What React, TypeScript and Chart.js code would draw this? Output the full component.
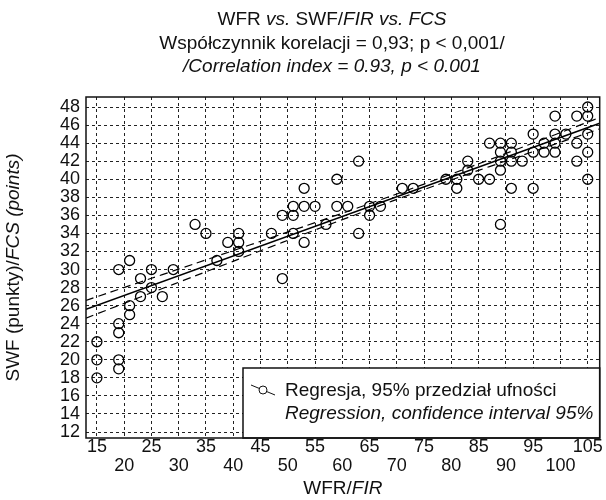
import React, { useEffect, useRef } from "react";
import { Chart, registerables } from "chart.js";

Chart.register(...registerables);

// ---- data ----
const pointX = [
  15, 15, 15,
  19, 19, 19, 19, 19,
  21, 21, 21,
  23, 23,
  25, 25,
  27, 29,
  33, 35, 37,
  39, 41, 41, 41,
  47, 49, 49,
  51, 51, 51,
  53, 53, 53,
  55, 57,
  59, 59, 61,
  63, 63,
  65, 65, 67,
  71, 73,
  79, 81, 81,
  83, 83,
  85, 87, 87,
  89, 89, 89, 89, 89,
  91, 91, 91, 91,
  93,
  95, 95, 95,
  97, 97,
  99, 99, 99, 99,
  101,
  103, 103, 103,
  105, 105, 105, 105, 105,
];
const pointY = [
  22, 20, 18,
  24, 23, 20, 19, 30,
  31, 26, 25,
  29, 27,
  30, 28,
  27, 30,
  35, 34, 31,
  33, 34, 33, 32,
  34, 36, 29,
  37, 36, 34,
  39, 37, 33,
  37, 35,
  40, 37, 37,
  42, 34,
  37, 36, 37,
  39, 39,
  40, 40, 39,
  42, 41,
  40, 44, 40,
  44, 43, 42, 41, 35,
  44, 43, 42, 39,
  42,
  45, 43, 39,
  44, 43,
  47, 45, 44, 43,
  45,
  47, 44, 42,
  48, 47, 45, 43, 40,
];

const xTicks = [15, 20, 25, 30, 35, 40, 45, 50, 55, 60, 65, 70, 75, 80, 85, 90, 95, 100, 105];
const yTicks = [12, 14, 16, 18, 20, 22, 24, 26, 28, 30, 32, 34, 36, 38, 40, 42, 44, 46, 48];

const X_MIN = 13;
const X_MAX = 107.2;
const Y_MIN = 11.34;
const Y_MAX = 49.11;

// regression y = a + b*x and its 95% confidence band
const regIntercept = 22.76;
const regSlope = 0.2187;
const bandCenterX = 72;
const bandMinHalf = 0.3;
const bandSpread = 0.00025;
const bandX = [13, 17, 21, 25, 29, 33, 37, 41, 45, 49, 53, 57, 61, 65, 69, 73, 77, 81, 85, 89, 93, 97, 101, 105, 107.2];

type Seg = { t: string; i: boolean };
const titleLines: Seg[][] = [
  [
    { t: "WFR ", i: false },
    { t: "vs.", i: true },
    { t: " SWF/", i: false },
    { t: "FIR vs. FCS", i: true },
  ],
  [{ t: "Współczynnik korelacji = 0,93; p < 0,001/", i: false }],
  [{ t: "/Correlation index = 0.93, p < 0.001", i: true }],
];
const xTitle: Seg[] = [
  { t: "WFR/", i: false },
  { t: "FIR", i: true },
];
const yTitle: Seg[] = [
  { t: "SWF (punkty)/", i: false },
  { t: "FCS (points)", i: true },
];
const legendLines: Seg[][] = [
  [{ t: "Regresja, 95% przedział ufności", i: false }],
  [{ t: "Regression, confidence interval 95%", i: true }],
];

const FAMILY = '"Liberation Sans", Arial, sans-serif';
const TEXT_SIZE = 19;
const TICK_SIZE = 18;

function drawRich(ctx: CanvasRenderingContext2D, segs: Seg[], x: number, y: number, align: "center" | "left", size: number) {
  const fontFor = (s: Seg) => `${s.i ? "italic " : ""}${size}px ${FAMILY}`;
  const widths = segs.map((s) => {
    ctx.font = fontFor(s);
    return ctx.measureText(s.t).width;
  });
  const total = widths.reduce((a, b) => a + b, 0);
  let cx = align === "center" ? x - total / 2 : x;
  ctx.textAlign = "left";
  ctx.textBaseline = "middle";
  segs.forEach((s, k) => {
    ctx.font = fontFor(s);
    ctx.fillText(s.t, cx, y);
    cx += widths[k];
  });
}

const decorPlugin = {
  id: "decor",
  afterDraw(chart: any) {
    const ctx: CanvasRenderingContext2D = chart.ctx;
    const area = chart.chartArea;
    ctx.save();
    ctx.fillStyle = "#111";
    ctx.strokeStyle = "#111";

    // legend box
    const lx = 243;
    const ly = 368;
    ctx.fillStyle = "#fff";
    ctx.fillRect(lx, ly, area.right - lx, area.bottom - ly);
    ctx.lineWidth = 1.5;
    ctx.strokeRect(lx, ly, area.right - lx, area.bottom - ly);
    // legend symbol
    ctx.lineWidth = 1;
    ctx.beginPath();
    ctx.moveTo(251, 385);
    ctx.lineTo(275, 395);
    ctx.stroke();
    ctx.beginPath();
    ctx.arc(263, 390, 4, 0, Math.PI * 2);
    ctx.fillStyle = "#fff";
    ctx.fill();
    ctx.stroke();
    ctx.fillStyle = "#111";
    drawRich(ctx, legendLines[0], 285, 391, "left", TEXT_SIZE);
    drawRich(ctx, legendLines[1], 285, 414, "left", TEXT_SIZE);

    // plot frame
    ctx.lineWidth = 1.5;
    ctx.strokeRect(area.left, area.top, area.right - area.left, area.bottom - area.top);

    // title
    drawRich(ctx, titleLines[0], 332, 20, "center", TEXT_SIZE);
    drawRich(ctx, titleLines[1], 332, 44, "center", TEXT_SIZE);
    drawRich(ctx, titleLines[2], 332, 67, "center", TEXT_SIZE);

    // axis titles
    drawRich(ctx, xTitle, (area.left + area.right) / 2, 489, "center", TEXT_SIZE);
    ctx.save();
    ctx.translate(14, (area.top + area.bottom) / 2);
    ctx.rotate(-Math.PI / 2);
    drawRich(ctx, yTitle, 0, 0, "center", TEXT_SIZE);
    ctx.restore();

    ctx.restore();
  },
};

export default function App() {
  const ref = useRef<HTMLCanvasElement>(null);

  useEffect(() => {
    document.body.style.margin = "0";
    const canvas = ref.current;
    if (!canvas) return;

    const points = pointX.map((x, k) => ({ x, y: pointY[k] }));
    const fit = (x: number) => regIntercept + regSlope * x;
    const half = (x: number) => Math.sqrt(bandMinHalf * bandMinHalf + bandSpread * (x - bandCenterX) * (x - bandCenterX));
    const regLine = [X_MIN, X_MAX].map((x) => ({ x, y: fit(x) }));
    const upper = bandX.map((x) => ({ x, y: fit(x) + half(x) }));
    const lower = bandX.map((x) => ({ x, y: fit(x) - half(x) }));

    const tickFont = { family: FAMILY, size: TICK_SIZE, lineHeight: 1.05 };

    const chart = new Chart(canvas, {
      type: "scatter",
      data: {
        datasets: [
          {
            type: "scatter",
            data: points,
            pointRadius: 5,
            pointBorderWidth: 1.3,
            pointBorderColor: "#000",
            pointBackgroundColor: "rgba(0,0,0,0)",
            borderColor: "#000",
            backgroundColor: "rgba(0,0,0,0)",
          },
          {
            type: "line",
            data: regLine,
            borderColor: "#000",
            borderWidth: 1.6,
            pointRadius: 0,
            fill: false,
          },
          {
            type: "line",
            data: upper,
            borderColor: "#000",
            borderWidth: 1.2,
            borderDash: [8, 5],
            pointRadius: 0,
            fill: false,
            tension: 0.3,
          },
          {
            type: "line",
            data: lower,
            borderColor: "#000",
            borderWidth: 1.2,
            borderDash: [8, 5],
            pointRadius: 0,
            fill: false,
            tension: 0.3,
          },
        ],
      } as any,
      options: {
        responsive: false,
        animation: false,
        layout: { padding: { top: 97, right: 3, left: 0, bottom: 0 } },
        plugins: {
          legend: { display: false },
          tooltip: { enabled: false },
          title: { display: false },
        },
        scales: {
          x: {
            type: "linear",
            min: X_MIN,
            max: X_MAX,
            afterBuildTicks: (s: any) => {
              s.ticks = xTicks.map((v) => ({ value: v }));
            },
            afterFit: (s: any) => {
              s.height = 62;
              s.paddingLeft = 0;
              s.paddingRight = 0;
            },
            grid: { color: "#222", lineWidth: 1, drawTicks: false },
            border: { display: false, dash: [3, 3] },
            ticks: {
              autoSkip: false,
              maxRotation: 0,
              minRotation: 0,
              padding: 0,
              color: "#111",
              font: tickFont,
              callback: (v: any) => ((Number(v) / 5) % 2 === 1 ? [String(v)] : ["", String(v)]),
            },
          },
          y: {
            type: "linear",
            min: Y_MIN,
            max: Y_MAX,
            afterBuildTicks: (s: any) => {
              s.ticks = yTicks.map((v) => ({ value: v }));
            },
            afterFit: (s: any) => {
              s.width = 86;
              s.paddingTop = 0;
              s.paddingBottom = 0;
            },
            grid: { color: "#222", lineWidth: 1, drawTicks: false },
            border: { display: false, dash: [3, 3] },
            ticks: {
              autoSkip: false,
              padding: 6,
              color: "#111",
              font: tickFont,
              callback: (v: any) => String(v),
            },
          },
        },
      } as any,
      plugins: [decorPlugin],
    });

    return () => chart.destroy();
  }, []);

  return (
    <div style={{ position: "absolute", left: 0, top: 0, width: 606, height: 500, background: "#fff" }}>
      <canvas ref={ref} width={606} height={500} />
    </div>
  );
}
